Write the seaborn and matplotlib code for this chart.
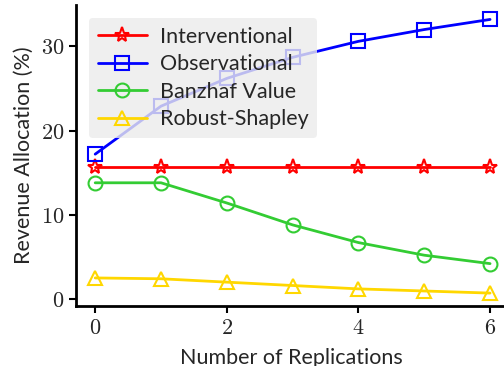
import numpy as np
import pandas as pd
import matplotlib
matplotlib.use("Agg")
import matplotlib.pyplot as plt
import seaborn as sns
from matplotlib.ticker import FuncFormatter

replications = [0, 1, 2, 3, 4, 5, 6]
interventional = [15.7, 15.7, 15.7, 15.7, 15.7, 15.7, 15.7]
observational = [17.2, 22.9, 26.2, 28.7, 30.6, 32.0, 33.2]
banzhaf = [13.8, 13.8, 11.4, 8.8, 6.7, 5.2, 4.2]
robust_shapley = [2.5, 2.4, 2.0, 1.6, 1.2, 0.95, 0.7]

series = ["Interventional", "Observational", "Banzhaf Value", "Robust-Shapley"]
colors = ["#ff0000", "#0000ff", "#33cc33", "#ffd700"]
markers = ["*", "s", "o", "^"]

df = pd.DataFrame({"x": replications * 4,
                   "y": interventional + observational + banzhaf + robust_shapley,
                   "method": np.repeat(series, len(replications))})

sns.set_style("ticks")
plt.rcParams["font.family"] = ["Lato", "DejaVu Sans"]
plt.rcParams["mathtext.fontset"] = "cm"

fig = plt.figure(figsize=(5.04, 3.66), dpi=100)
ax = fig.add_axes([0.151, 0.164, 0.854, 0.822])

for name, c, m in zip(series, colors, markers):
    sub = df[df["method"] == name]
    sns.lineplot(data=sub, x="x", y="y", ax=ax, color=c, marker=m, label=name,
                 markersize=10 if m != "*" else 11, mfc="none", mec=c, mew=1.5,
                 linewidth=2)

ax.set_xlim(-0.29, 6.25)
ax.set_ylim(-0.83, 34.9)
ax.set_xticks([0, 2, 4, 6])
ax.set_yticks([0, 10, 20, 30])
fmt = FuncFormatter(lambda v, p: f"${v:g}$")
ax.xaxis.set_major_formatter(fmt)
ax.yaxis.set_major_formatter(fmt)
ax.tick_params(labelsize=16, width=1.5, length=5, color="black")
for s in ["left", "bottom"]:
    ax.spines[s].set_linewidth(2)
    ax.spines[s].set_color("black")
sns.despine(ax=ax)

ax.set_xlabel("Number of Replications", fontsize=15.5, labelpad=7)
ax.set_ylabel("Revenue Allocation (%)", fontsize=15.5, labelpad=5)

leg = ax.legend(loc="upper left", fontsize=15.5, frameon=True, facecolor="#ebebeb",
                edgecolor="none", framealpha=0.8, handlelength=2.3,
                handletextpad=0.6, labelspacing=0.35, borderaxespad=0.6)

fig.savefig("out.png", dpi=100)
